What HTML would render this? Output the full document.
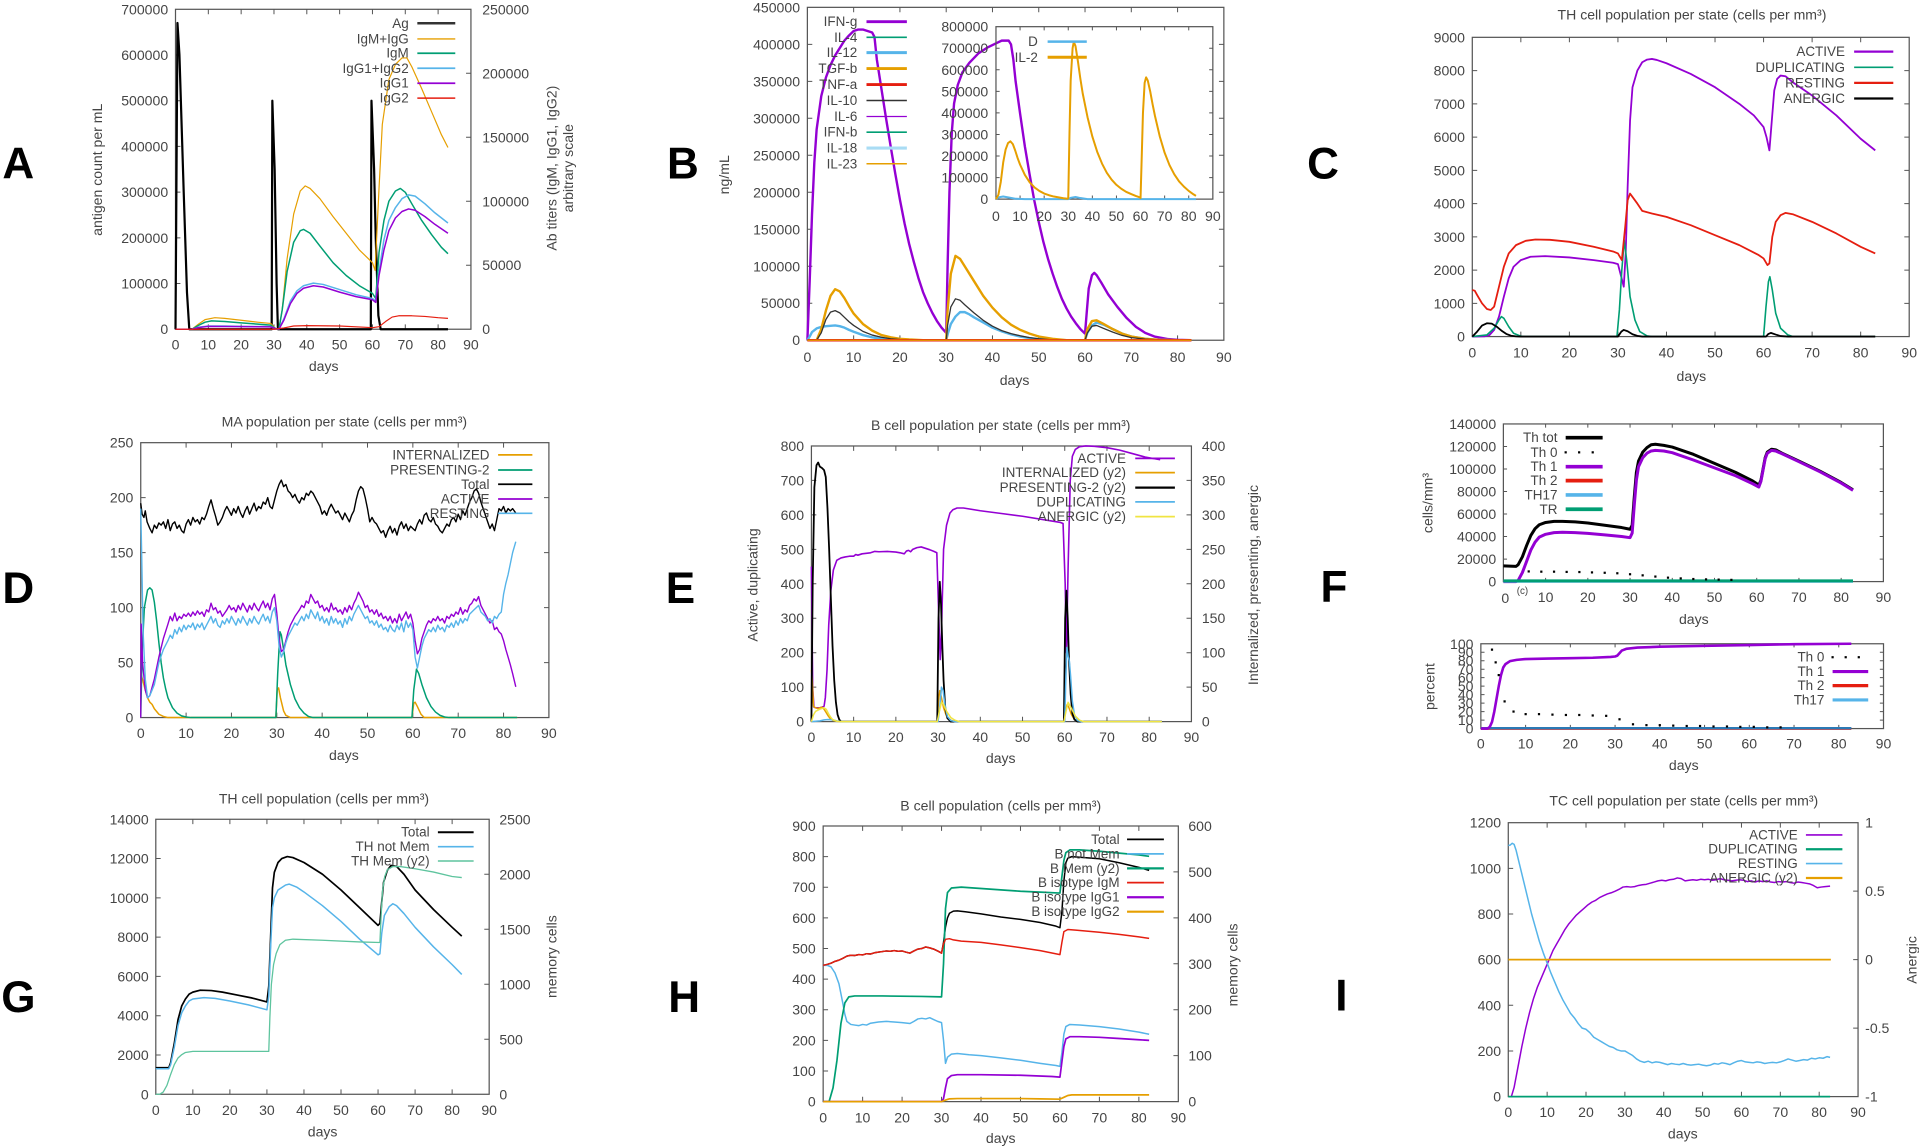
<!DOCTYPE html>
<html><head><meta charset="utf-8"><style>
html,body{margin:0;padding:0;background:#fff;overflow:hidden;width:1919px;height:1148px}
svg{display:block}
text{font-family:"Liberation Sans",Arial,sans-serif;fill:#454545;font-size:11.5px;dominant-baseline:central}
.e{text-anchor:end}.m{text-anchor:middle}.s{text-anchor:start}
.lg{font-size:11px;text-anchor:end}
.ti{font-size:11.5px;text-anchor:middle}
.L{font-size:36px;font-weight:bold;fill:#000;text-anchor:middle}
.bd{fill:none;stroke:#555;stroke-width:1}
.tk,polyline{fill:none;vector-effect:non-scaling-stroke}
.tk{stroke:#555;stroke-width:1}
polyline{stroke-linejoin:round;stroke-width:1.5}
.ck{stroke:#000}.cp{stroke:#9400d3}.cg{stroke:#009e73}.cb{stroke:#56b4e9}.co{stroke:#e69f00}.cr{stroke:#e51e10}.cy{stroke:#f0e442}.cd{stroke:#333}
path.lgl{fill:none;stroke-width:1.4}
</style></head><body>
<svg width="1919" height="1148" viewBox="0 0 1568 938" preserveAspectRatio="none" xmlns="http://www.w3.org/2000/svg">
<rect x="0" y="0" width="1568" height="938" fill="#fff"/>

<!-- Panel letters -->
<text class="L" x="15" y="134">A</text>
<text class="L" x="558" y="134">B</text>
<text class="L" x="1081" y="134">C</text>
<text class="L" x="15" y="481">D</text>
<text class="L" x="556" y="481">E</text>
<text class="L" x="1090" y="480">F</text>
<text class="L" x="15" y="815">G</text>
<text class="L" x="559" y="815">H</text>
<text class="L" x="1096" y="814">I</text>

<!-- ================= PANEL A ================= -->
<rect class="bd" x="143.4" y="7.6" width="241.4" height="261.4"/>
<g transform="translate(143.4,269) scale(2.6822,-0.37343)">
<path class="tk" d="M10,0v10.7M20,0v10.7M30,0v10.7M40,0v10.7M50,0v10.7M60,0v10.7M70,0v10.7M80,0v10.7M10,700v-10.7M20,700v-10.7M30,700v-10.7M40,700v-10.7M50,700v-10.7M60,700v-10.7M70,700v-10.7M80,700v-10.7M0,100h1.49M0,200h1.49M0,300h1.49M0,400h1.49M0,500h1.49M0,600h1.49M90,140h-1.49M90,280h-1.49M90,420h-1.49M90,560h-1.49"/>
<polyline class="ck" style="stroke-width:2.2" points="0,0 0.6,670 1.2,600 2.5,300 3.5,80 4.2,0 29.3,0 29.5,500 30.2,350 30.8,100 31.2,0 59.5,0 59.7,500 60.5,350 61,200 61.8,30 62.5,0 83,0"/>
</g>
<g transform="translate(143.4,269) scale(2.6822,-1.0456)">
<polyline class="co" style="stroke-width:1.2" points="0,0 5,0 7,4 9,7.5 12,9 15,8.5 20,7 25,5.5 29,4.5 30.5,0.5 31.5,0 32.5,15 34,55 36,90 38,108 39.5,112 41,110 44,102 48,88 52,75 56,62 60,52 60.8,46 62,110 63,160 65,195 67,207 69,212 70.5,212 72,205 75,188 78,170 81,152 83,142"/>
<polyline class="cg" points="0,0 5,0 7,3 9,5.5 11,6.5 15,6 20,5 25,4 29,3.2 30.5,0.5 31.5,0 32.5,15 34,45 36,68 38,77 39,78 41,75 44,65 48,52 52,42 56,34 60,28 61,24 62,60 63.5,85 65,100 67,108 68.5,110 70,107 72,98 75,85 78,74 81,64 83,59"/>
<polyline class="cb" points="0,0 5,0 7,1.5 10,2.5 15,2.5 20,2.2 29,2 30.5,0.5 31.5,0 33,8 35,22 37,30 39,34 42,36 45,35 50,31 55,27 60,24 61,22 62,45 63.5,70 65,85 67,95 69,102 71,105 73,104 76,98 79,91 83,83"/>
<polyline class="cp" points="0,0 5,0 7,1.3 10,2.2 20,2 29,1.8 30.5,0.5 31.5,0 33,7 35,20 37,28 39,32 42,34 45,33 50,29 55,25.5 60,23 61,21 62,42 63.5,62 65,77 67,87 69,92 71,94 73,93 76,88 79,82 83,75"/>
<polyline class="cr" style="stroke-width:1.2" points="0,0 30,0 33,1 36,2.5 40,2.8 50,2.5 58,1.5 60,1.2 62,2 64,6 66,9.5 68,10.5 72,10.5 76,10 80,9 83,8.5"/>
</g>
<g class="e">
<text x="137.4" y="269">0</text><text x="137.4" y="231.66">100000</text><text x="137.4" y="194.32">200000</text><text x="137.4" y="156.97">300000</text><text x="137.4" y="119.63">400000</text><text x="137.4" y="82.29">500000</text><text x="137.4" y="44.94">600000</text><text x="137.4" y="7.6">700000</text>
</g>
<g class="s">
<text x="394" y="269">0</text><text x="394" y="216.72">50000</text><text x="394" y="164.44">100000</text><text x="394" y="112.16">150000</text><text x="394" y="59.88">200000</text><text x="394" y="7.6">250000</text>
</g>
<g class="m">
<text x="143.4" y="281.5">0</text><text x="170.2" y="281.5">10</text><text x="197" y="281.5">20</text><text x="223.9" y="281.5">30</text><text x="250.7" y="281.5">40</text><text x="277.5" y="281.5">50</text><text x="304.3" y="281.5">60</text><text x="331.2" y="281.5">70</text><text x="358" y="281.5">80</text><text x="384.8" y="281.5">90</text>
<text x="264.5" y="299">days</text>
<text transform="translate(79.4,138.7) rotate(-90)">antigen count per mL</text>
<text transform="translate(450.6,137.4) rotate(-90)">Ab titers (IgM, IgG1, IgG2)</text>
<text transform="translate(464,137.4) rotate(-90)">arbitrary scale</text>
</g>
<text class="lg" x="334" y="19">Ag</text><text class="lg" x="334" y="31.8">IgM+IgG</text><text class="lg" x="334" y="43.5">IgM</text><text class="lg" x="334" y="55.8">IgG1+IgG2</text><text class="lg" x="334" y="68">IgG1</text><text class="lg" x="334" y="80.2">IgG2</text>
<path class="lgl" d="M341,19H372" style="stroke:#333;stroke-width:2"/>
<path class="lgl co" d="M341,31.8H372" style="stroke-width:1.1"/>
<path class="lgl cg" d="M341,43.5H372"/>
<path class="lgl cb" d="M341,55.8H372"/>
<path class="lgl cp" d="M341,68H372"/>
<path class="lgl cr" d="M341,80.2H372" style="stroke-width:1.2"/>

<!-- ================= PANEL B ================= -->
<rect class="bd" x="659.7" y="6" width="340.3" height="272"/>
<g transform="translate(659.7,278) scale(3.7811,-0.60444)">
<path class="tk" d="M10,0v6.6M20,0v6.6M30,0v6.6M40,0v6.6M50,0v6.6M60,0v6.6M70,0v6.6M80,0v6.6M10,450v-6.6M20,450v-6.6M30,450v-6.6M40,450v-6.6M50,450v-6.6M60,450v-6.6M70,450v-6.6M80,450v-6.6M0,50h1.06M0,100h1.06M0,150h1.06M0,200h1.06M0,250h1.06M0,300h1.06M0,350h1.06M0,400h1.06M90,50h-1.06M90,100h-1.06M90,150h-1.06M90,200h-1.06M90,250h-1.06M90,300h-1.06M90,350h-1.06M90,400h-1.06"/>
<polyline class="cp" style="stroke-width:2.4" points="0,0 0.5,80 1,170 1.5,240 2,285 3,330 4,355 5,372 6,385 7,395 8,405 9,412 10,418 11,420 12,420 13,418 14,416 14.5,410 15,380 16,340 17,300 18,262 19,225 20,190 21,158 22,130 23,106 24,84 25,65 26,50 27,37 28,26 29,17 30,10 30.3,100 30.7,200 31.2,280 31.7,320 32.5,345 33.5,362 35,375 37,388 39,396 41,402 42,405 43.5,405 44,400 44.5,380 45,350 46,305 47,262 48,225 49,190 50,160 51,133 52,110 53,90 54,72 55,56 56,43 57,32 58,23 59,15 60,9 60.4,40 60.8,70 61.5,88 62,91 62.5,88 63.5,78 65,62 67,45 69,30 71,18 73,10 75,5 78,1.5 80,0.5 83,0"/>
<polyline class="cb" style="stroke-width:2.4" points="0,0 0.5,5 1,11 2,16 3,18 4,19 5,19.5 6,20 7,19 8,17 9,14 10,11.5 12,7 14,4 16,2 18,1 20,0.3 22,0 30,0 30.4,10 31,22 32,32 33,38 34,38 35,35 36,31 38,24 40,17 42,12 44,8 46,5 48,3 50,1.5 53,0.5 56,0 60,0 60.5,10 61.5,20 62.5,24 64,21 66,15 68,9 70,5 73,2 76,0.5 80,0"/>
<polyline class="co" style="stroke-width:2.4" points="0,0 2,0 3,15 4,40 5,60 6,69 7,66 8,57 9,46 10,36 12,22 14,13 16,7 18,4 20,2 22,1 25,0 30,0 30.3,40 31,90 32,114 33,110 34,100 36,80 38,60 40,44 42,31 44,21 46,14 48,9 50,5 53,2 56,0 60,0 60.5,15 61.5,26 62.5,27 64,22 66,15 68,9 70,5 73,2 76,0.5 80,0"/>
<polyline class="cd" style="stroke-width:1.3" points="0,0 2,0 3,10 4,28 5,38 6,40 7,37 8,31 9,25 10,20 12,12 14,7 16,4 18,2 20,1 23,0 30,0 30.3,20 31,45 32,56 33,54 34,48 36,37 38,27 40,19 42,13 44,9 46,6 48,3.5 50,2 53,0.5 56,0 60,0 60.5,10 61.5,19 62.5,20 64,16 66,11 68,6.5 70,3.5 73,1.5 76,0.5 80,0"/>
<polyline class="cr" style="stroke-width:2.4" points="0,0 83,0"/>
<polyline class="co" style="stroke-width:1.2" points="0,0 83,0"/>
</g>
<rect class="bd" x="813.8" y="21.8" width="177.2" height="140.9"/>
<g transform="translate(813.8,162.7) scale(1.9689,-0.176125)">
<path class="tk" d="M10,0v17M20,0v17M30,0v17M40,0v17M50,0v17M60,0v17M70,0v17M80,0v17M10,800v-17M20,800v-17M30,800v-17M40,800v-17M50,800v-17M60,800v-17M70,800v-17M80,800v-17M0,100h1.52M0,200h1.52M0,300h1.52M0,400h1.52M0,500h1.52M0,600h1.52M0,700h1.52M90,100h-1.52M90,200h-1.52M90,300h-1.52M90,400h-1.52M90,500h-1.52M90,600h-1.52M90,700h-1.52"/>
<polyline class="cb" style="stroke-width:2" points="0,0 1,8 3,12 5,8 8,2 12,0 30,0 31,6 33,10 35,5 38,0 83,0"/>
<polyline class="co" style="stroke-width:2" points="0,0 1,20 2,80 3,170 4,230 5,260 6,268 7,255 8,225 9,190 10,160 12,112 14,78 16,54 18,38 20,26 22,18 24,12 26,8 28,4 29.8,2 30,5 30.5,300 31,550 31.8,700 32.3,730 33,710 34,640 35,560 36,490 38,380 40,290 42,220 44,165 46,122 48,90 50,66 52,48 54,34 56,24 58,15 59.8,8 60,5 60.5,200 61,400 61.7,540 62.3,565 63,550 64,500 65,440 66,385 68,290 70,215 72,158 74,115 76,82 78,58 80,38 82,22 83,15"/>
</g>
<g class="e">
<text x="653.7" y="278">0</text><text x="653.7" y="247.78">50000</text><text x="653.7" y="217.56">100000</text><text x="653.7" y="187.33">150000</text><text x="653.7" y="157.11">200000</text><text x="653.7" y="126.89">250000</text><text x="653.7" y="96.67">300000</text><text x="653.7" y="66.44">350000</text><text x="653.7" y="36.22">400000</text><text x="653.7" y="6">450000</text>
<text x="807.5" y="162.7">0</text><text x="807.5" y="145.09">100000</text><text x="807.5" y="127.48">200000</text><text x="807.5" y="109.86">300000</text><text x="807.5" y="92.25">400000</text><text x="807.5" y="74.64">500000</text><text x="807.5" y="57.03">600000</text><text x="807.5" y="39.41">700000</text><text x="807.5" y="21.8">800000</text>
</g>
<g class="m">
<text x="659.7" y="291.5">0</text><text x="697.5" y="291.5">10</text><text x="735.3" y="291.5">20</text><text x="773.1" y="291.5">30</text><text x="810.9" y="291.5">40</text><text x="848.8" y="291.5">50</text><text x="886.6" y="291.5">60</text><text x="924.4" y="291.5">70</text><text x="962.2" y="291.5">80</text><text x="1000" y="291.5">90</text>
<text x="813.8" y="176.3">0</text><text x="833.5" y="176.3">10</text><text x="853.2" y="176.3">20</text><text x="872.9" y="176.3">30</text><text x="892.6" y="176.3">40</text><text x="912.2" y="176.3">50</text><text x="931.9" y="176.3">60</text><text x="951.6" y="176.3">70</text><text x="971.3" y="176.3">80</text><text x="991" y="176.3">90</text>
<text x="829" y="310.6">days</text>
<text transform="translate(591.7,142.8) rotate(-90)">ng/mL</text>
</g>
<text class="lg" x="700.5" y="17.7">IFN-g</text><text class="lg" x="700.5" y="30.5">IL-4</text><text class="lg" x="700.5" y="43">IL-12</text><text class="lg" x="700.5" y="56">TGF-b</text><text class="lg" x="700.5" y="69.1">TNF-a</text><text class="lg" x="700.5" y="82.1">IL-10</text><text class="lg" x="700.5" y="95.2">IL-6</text><text class="lg" x="700.5" y="108">IFN-b</text><text class="lg" x="700.5" y="121">IL-18</text><text class="lg" x="700.5" y="133.8">IL-23</text>
<path class="lgl cp" d="M708,17.7H741" style="stroke-width:2.4"/>
<path class="lgl cg" d="M708,30.5H741"/>
<path class="lgl cb" d="M708,43H741" style="stroke-width:2.4"/>
<path class="lgl co" d="M708,56H741" style="stroke-width:2.4"/>
<path class="lgl cr" d="M708,69.1H741" style="stroke-width:2.4"/>
<path class="lgl cd" d="M708,82.1H741" style="stroke-width:1.2"/>
<path class="lgl cp" d="M708,95.2H741" style="stroke-width:1"/>
<path class="lgl cg" d="M708,108H741"/>
<path class="lgl" d="M708,121H741" style="stroke:#a9dcf4;stroke-width:2.6"/>
<path class="lgl co" d="M708,133.8H741" style="stroke-width:1.2"/>
<text class="lg" x="848" y="34">D</text><text class="lg" x="848" y="46.8">IL-2</text>
<path class="lgl cb" d="M856,34H888" style="stroke-width:2"/>
<path class="lgl co" d="M856,46.8H888" style="stroke-width:2.4"/>

<!-- ================= PANEL C ================= -->
<text class="ti" x="1382.5" y="12">TH cell population per state (cells per mm³)</text>
<rect class="bd" x="1203" y="30.5" width="357" height="244.5"/>
<g transform="translate(1203,275) scale(3.9667,-0.027167)">
<path class="tk" d="M10,0v147M20,0v147M30,0v147M40,0v147M50,0v147M60,0v147M70,0v147M80,0v147M10,9000v-147M20,9000v-147M30,9000v-147M40,9000v-147M50,9000v-147M60,9000v-147M70,9000v-147M80,9000v-147M0,1000h1.01M0,2000h1.01M0,3000h1.01M0,4000h1.01M0,5000h1.01M0,6000h1.01M0,7000h1.01M0,8000h1.01M90,1000h-1.01M90,2000h-1.01M90,3000h-1.01M90,4000h-1.01M90,5000h-1.01M90,6000h-1.01M90,7000h-1.01M90,8000h-1.01"/>
<polyline class="cp" style="stroke-width:1.8" points="0,0 2.5,5 3.5,40 4.5,200 5.5,600 6.5,1200 7.5,1750 8.5,2100 10,2300 12,2400 15,2420 20,2380 25,2300 29,2220 30,2180 30.5,1900 31.2,1500 31.6,2500 32,4500 32.5,6500 33,7500 34,8000 35,8250 36,8330 37,8350 38,8320 40,8220 45,7900 50,7500 55,7000 58,6650 60,6300 60.6,6000 61.2,5600 61.7,6500 62.2,7400 62.8,7750 63.5,7850 64.5,7830 66,7650 70,7250 75,6650 80,5950 83,5600"/>
<polyline class="cg" style="stroke-width:1.6" points="0,0 3,50 4.5,250 5.5,500 6,600 6.5,550 7.5,300 8.5,100 10,10 11,0 29.8,0 30.3,800 30.8,2000 31.3,2900 31.8,2300 32.5,1200 33.5,500 34.5,150 36,20 37,0 60,0 60.5,900 61,1650 61.3,1800 61.8,1400 62.5,700 63.5,250 65,50 66,0 83,0"/>
<polyline class="cr" style="stroke-width:1.8" points="0,1400 0.5,1380 1,1250 2,1000 3,830 3.8,800 4.5,900 5.5,1500 6.5,2100 7.5,2500 9,2750 11,2880 13,2920 16,2910 20,2850 25,2700 29,2560 30,2500 30.8,2300 31.5,3300 32,4100 32.5,4300 33,4200 34,4000 35,3780 37,3700 40,3600 45,3350 50,3050 55,2750 59,2450 60,2350 60.8,2150 61.2,2200 61.8,3000 62.5,3450 63.5,3650 64.5,3720 66,3680 70,3450 75,3100 80,2700 83,2500"/>
<polyline class="ck" style="stroke-width:1.8" points="0,0 1,150 2,330 3,400 4,390 5,300 6,180 7,80 8,25 9,5 10,0 30,0 30.7,150 31.2,200 32,160 33,70 34,20 35,0 60.5,0 61,80 61.5,110 62.5,60 63.5,15 65,0 83,0"/>
</g>
<g class="e">
<text x="1197" y="275">0</text><text x="1197" y="247.83">1000</text><text x="1197" y="220.67">2000</text><text x="1197" y="193.5">3000</text><text x="1197" y="166.33">4000</text><text x="1197" y="139.17">5000</text><text x="1197" y="112">6000</text><text x="1197" y="84.83">7000</text><text x="1197" y="57.67">8000</text><text x="1197" y="30.5">9000</text>
</g>
<g class="m">
<text x="1203" y="288">0</text><text x="1242.7" y="288">10</text><text x="1282.3" y="288">20</text><text x="1322" y="288">30</text><text x="1361.7" y="288">40</text><text x="1401.3" y="288">50</text><text x="1441" y="288">60</text><text x="1480.7" y="288">70</text><text x="1520.3" y="288">80</text><text x="1560" y="288">90</text>
<text x="1382" y="307.4">days</text>
</g>
<text class="lg" x="1507.5" y="42.2">ACTIVE</text><text class="lg" x="1507.5" y="55">DUPLICATING</text><text class="lg" x="1507.5" y="67.7">RESTING</text><text class="lg" x="1507.5" y="80.5">ANERGIC</text>
<path class="lgl cp" d="M1515,42.2H1547" style="stroke-width:1.8"/>
<path class="lgl cg" d="M1515,55H1547"/>
<path class="lgl cr" d="M1515,67.7H1547" style="stroke-width:1.8"/>
<path class="lgl ck" d="M1515,80.5H1547" style="stroke-width:1.8"/>

<!-- ================= PANEL D ================= -->
<text class="ti" x="281.4" y="344.5">MA population per state (cells per mm³)</text>
<rect class="bd" x="115" y="361.7" width="333.5" height="224.6"/>
<g transform="translate(115,586.3) scale(3.7056,-0.8984)">
<path class="tk" d="M10,0v4.45M20,0v4.45M30,0v4.45M40,0v4.45M50,0v4.45M60,0v4.45M70,0v4.45M80,0v4.45M10,250v-4.45M20,250v-4.45M30,250v-4.45M40,250v-4.45M50,250v-4.45M60,250v-4.45M70,250v-4.45M80,250v-4.45M0,50h1.08M0,100h1.08M0,150h1.08M0,200h1.08M90,50h-1.08M90,100h-1.08M90,150h-1.08M90,200h-1.08"/>
<polyline class="co" points="0,40 0.5,33 1,25 1.5,18 2,14 2.5,12 3,8 4,3 5,1 6,0 29.8,0 30.1,25 30.4,27 30.8,18 31.5,6 32,2 33,0 59.8,0 60.2,13 60.5,14 61,10 61.8,3 62.5,0 83,0"/>
<polyline class="cg" points="0,0 0.3,60 0.8,100 1.5,116 2,118 2.5,116 3,105 3.5,88 4,68 4.5,50 5,36 5.5,26 6,18 7,9 8,4 9,1.5 10,0.5 11,0 29.8,0 30.2,40 30.7,78 31,75 31.5,62 32,48 33,30 34,17 35,9 36,4 37,1 38,0 59.8,0 60.2,25 60.8,44 61.3,40 62,30 63,18 64,10 65,5 66,2 67,0.5 68,0 83,0"/>
<polyline class="ck" style="stroke-width:1.4" points="0,195 0.3,185 0.7,182 1,188 1.4,178 2,172 2.5,168 3,175 3.5,172 4,177 4.5,175 5,178 5.5,172 6,180 6.5,170 7,176 7.5,178 8,172 8.5,175 9,170 9.5,168 10,176 10.5,180 11,175 11.5,182 12,178 12.5,180 13,176 13.5,182 14,180 14.5,185 15,192 15.5,198 16,190 16.5,183 17,175 17.5,178 18,182 18.5,188 19,192 19.5,188 20,184 20.5,190 21,186 21.5,192 22,186 22.5,182 23,188 23.5,192 24,185 24.5,190 25,195 25.5,188 26,192 26.5,190 27,196 27.5,194 28,200 28.5,192 29,190 29.5,198 30,206 30.5,212 31,216 31.5,210 32,212 32.5,206 33,204 33.5,200 34,203 34.5,198 35,195 35.5,200 36,198 36.5,204 37,202 37.5,206 38,204 38.5,200 39,196 39.5,192 40,185 40.5,188 41,184 41.5,190 42,194 42.5,190 43,186 43.5,188 44,184 44.5,180 45,186 45.5,182 46,178 46.5,184 47,188 47.5,198 48,206 48.5,210 49,208 49.5,200 50,190 50.5,178 51,182 51.5,178 52,176 52.5,172 53,168 53.5,170 54,164 54.5,170 55,174 55.5,168 56,172 56.5,166 57,174 57.5,178 58,172 58.5,176 59,170 59.5,174 60,172 60.5,170 61,176 61.5,180 62,176 62.5,184 63,186 63.5,180 64,178 64.5,182 65,176 65.5,174 66,170 66.5,168 67,172 67.5,176 68,174 68.5,180 69,182 69.5,178 70,185 70.5,180 71,188 71.5,184 72,190 72.5,196 73,200 73.5,206 74,208 74.5,204 75,196 75.5,190 76,184 76.5,178 77,172 77.5,176 78,170 78.5,180 79,190 79.5,188 80,192 80.5,186 81,190 81.5,188 82,190 82.7,186"/>
<polyline class="cp" style="stroke-width:1.4" points="0,0 0.1,85 0.4,50 1,25 1.5,18 2,20 3,35 4,55 5,72 6,85 6.5,92 7,88 7.5,95 8,88 8.5,92 9,90 9.5,94 10,92 10.5,95 11,92 11.5,96 12,93 12.5,97 13,94 13.5,96 14,92 14.5,98 15,96 15.5,104 16,98 16.5,100 17,95 17.5,97 18,92 18.5,95 19,98 19.5,102 20,98 20.5,100 21,96 21.5,102 22,98 22.5,104 23,100 23.5,96 24,102 24.5,98 25,104 25.5,100 26,97 26.5,102 27,106 27.5,100 28,104 28.5,98 29,108 29.5,112 30,95 30.5,72 31,60 31.5,62 32,70 32.5,78 33,84 33.5,88 34,92 34.5,95 35,98 35.5,102 36,100 36.5,106 37,104 37.5,112 38,108 38.5,104 39,106 39.5,100 40,102 40.5,97 41,100 41.5,96 42,104 42.5,98 43,100 43.5,96 44,98 44.5,94 45,100 45.5,96 46,102 46.5,98 47,104 47.5,108 48,114 48.5,110 49,106 49.5,100 50,102 50.5,96 51,98 51.5,94 52,98 52.5,92 53,95 53.5,90 54,92 54.5,88 55,92 55.5,86 56,90 56.5,86 57,94 57.5,88 58,92 58.5,96 59,90 59.5,94 60,86 60.5,70 61,58 61.5,62 62,72 62.5,78 63,84 63.5,88 64,86 64.5,90 65,88 65.5,92 66,88 66.5,90 67,86 67.5,92 68,90 68.5,94 69,92 69.5,96 70,94 70.5,100 71,94 71.5,98 72,96 72.5,102 73,104 73.5,108 74,106 74.5,110 75,102 75.5,98 76,94 76.5,90 77,86 77.5,88 78,80 78.5,82 79,78 79.5,76 80,70 80.5,62 81,55 81.5,48 82,40 82.7,28"/>
<polyline class="cb" style="stroke-width:1.4" points="0,190 0.2,150 0.5,80 1,35 1.5,18 2,20 3,30 4,50 5,62 6,70 6.5,75 7,72 7.5,80 8,76 8.5,82 9,78 9.5,84 10,80 10.5,84 11,82 11.5,86 12,80 12.5,85 13,82 13.5,86 14,80 14.5,84 15,88 15.5,92 16,86 16.5,90 17,84 17.5,82 18,88 18.5,85 19,90 19.5,86 20,92 20.5,88 21,84 21.5,90 22,86 22.5,92 23,88 23.5,84 24,90 24.5,86 25,92 25.5,88 26,85 26.5,90 27,94 27.5,88 28,92 28.5,86 29,96 29.5,100 30,88 30.5,65 31,55 31.5,60 32,68 32.5,74 33,78 33.5,82 34,86 34.5,84 35,88 35.5,92 36,88 36.5,94 37,90 37.5,98 38,94 38.5,90 39,96 39.5,88 40,92 40.5,86 41,90 41.5,84 42,92 42.5,86 43,90 43.5,85 44,88 44.5,82 45,90 45.5,85 46,92 46.5,88 47,94 47.5,98 48,102 48.5,98 49,94 49.5,90 50,92 50.5,86 51,88 51.5,84 52,88 52.5,82 53,85 53.5,80 54,82 54.5,78 55,84 55.5,80 56,78 56.5,84 57,80 57.5,86 58,78 58.5,88 59,82 59.5,86 60,80 60.5,55 61,45 61.5,55 62,65 62.5,72 63,76 63.5,80 64,78 64.5,82 65,78 65.5,84 66,80 66.5,82 67,78 67.5,84 68,82 68.5,86 69,82 69.5,88 70,84 70.5,90 71,86 71.5,90 72,88 72.5,94 73,96 73.5,98 74,100 74.5,102 75,96 75.5,94 76,92 76.5,88 77,90 77.5,86 78,92 78.5,90 79,94 79.5,96 80,112 80.5,122 81,130 81.5,140 82,150 82.7,160"/>
</g>
<g class="e">
<text x="109" y="586.3">0</text><text x="109" y="541.38">50</text><text x="109" y="496.46">100</text><text x="109" y="451.54">150</text><text x="109" y="406.62">200</text><text x="109" y="361.7">250</text>
</g>
<g class="m">
<text x="115" y="599">0</text><text x="152.1" y="599">10</text><text x="189.1" y="599">20</text><text x="226.2" y="599">30</text><text x="263.2" y="599">40</text><text x="300.3" y="599">50</text><text x="337.3" y="599">60</text><text x="374.4" y="599">70</text><text x="411.4" y="599">80</text><text x="448.5" y="599">90</text>
<text x="281" y="616.8">days</text>
</g>
<text class="lg" x="400" y="371.7">INTERNALIZED</text><text class="lg" x="400" y="384">PRESENTING-2</text><text class="lg" x="400" y="395.7">Total</text><text class="lg" x="400" y="407.7">ACTIVE</text><text class="lg" x="400" y="419.4">RESTING</text>
<path class="lgl co" d="M407,371.7H435"/>
<path class="lgl cg" d="M407,384H435"/>
<path class="lgl ck" d="M407,395.7H435"/>
<path class="lgl cp" d="M407,407.7H435"/>
<path class="lgl cb" d="M407,419.4H435"/>

<!-- ================= PANEL E ================= -->
<text class="ti" x="817.7" y="347.2">B cell population  per state (cells per mm³)</text>
<rect class="bd" x="663" y="364.4" width="310.5" height="225.2"/>
<g transform="translate(663,589.6) scale(3.45,-0.2815)">
<path class="tk" d="M10,0v14.2M20,0v14.2M30,0v14.2M40,0v14.2M50,0v14.2M60,0v14.2M70,0v14.2M80,0v14.2M10,800v-14.2M20,800v-14.2M30,800v-14.2M40,800v-14.2M50,800v-14.2M60,800v-14.2M70,800v-14.2M80,800v-14.2M0,100h1.16M0,200h1.16M0,300h1.16M0,400h1.16M0,500h1.16M0,600h1.16M0,700h1.16M90,100h-1.16M90,200h-1.16M90,300h-1.16M90,400h-1.16M90,500h-1.16M90,600h-1.16M90,700h-1.16"/>
<polyline class="cp" style="stroke-width:1.6" points="0,450 0.3,100 0.6,42 1,40 2,40 2.5,42 3,45 3.3,70 3.7,150 4.1,280 4.6,380 5.2,440 6,468 7,475 8,478 9,480 10,480 10.5,485 11,483 12,487 14,490 15,494 16,493 18,494 20,492 21,490 22,487 22.5,495 23,497 23.5,493 24,500 25,505 26,507 27,503 28,499 29,494 29.7,490 30.1,330 30.5,180 30.8,260 31.3,500 32,570 32.8,605 33.5,615 34.5,620 36,620 40,612 45,604 50,596 55,586 59,578 59.6,575 60.1,400 60.4,200 60.8,450 61.3,700 61.8,770 62.5,790 63.5,798 65,800 67,799 70,795 73,788 76,778 79,768 82.6,760"/>
</g>
<g transform="translate(663,589.6) scale(3.45,-0.563)">
<polyline class="co" points="0,75 0.2,60 0.5,22 1,20 1.5,19 2,20 2.5,21 3,18 3.5,13 4,8 4.5,4 5,2 6,0.5 7,0 29.8,0 30.1,30 30.4,45 30.8,35 31.3,20 32,8 33,2 34,0 59.8,0 60.2,18 60.6,25 61,20 61.6,10 62.3,3 63,0 83,0"/>
<polyline class="ck" style="stroke-width:1.8" points="0,0 0.3,200 0.7,340 1.2,372 1.6,376 2,370 2.5,368 3,365 3.4,355 3.8,310 4.2,250 4.6,180 5,110 5.4,60 5.8,28 6.2,10 6.6,3 7,0 29.8,0 30.1,150 30.4,203 30.7,170 31,110 31.3,60 31.7,20 32.2,5 33,0 59.8,0 60.1,150 60.4,190 60.7,150 61,90 61.4,40 61.8,12 62.3,3 63,0 83,0"/>
</g>
<g transform="translate(663,589.6) scale(3.45,-0.2815)">
<polyline class="cb" points="0,0 2,2 3,5 4,6 5,5 6,2 7,0 30,0 30.4,40 30.8,100 31.2,90 31.6,50 32.2,15 33,3 34,0 60,0 60.2,100 60.5,215 60.8,190 61.1,175 61.4,130 61.8,60 62.3,20 63,3 64,0 83,0"/>
</g>
<g transform="translate(663,589.6) scale(3.45,-0.563)">
<polyline class="cy" points="0,0 0.5,10 1,15 2,18 3,20 3.5,18 4,12 4.5,7 5,3 6,0.5 7,0 29.8,0 30.3,15 30.8,28 31.3,25 32,15 33,6 34,2 35,0 59.8,0 60.3,15 60.8,28 61.5,20 62.5,8 63.5,2 64.5,0 83,0"/>
</g>
<g class="e" style="font-size:12px">
<text x="657" y="589.6">0</text><text x="657" y="561.45">100</text><text x="657" y="533.3">200</text><text x="657" y="505.15">300</text><text x="657" y="477">400</text><text x="657" y="448.85">500</text><text x="657" y="420.7">600</text><text x="657" y="392.55">700</text><text x="657" y="364.4">800</text>
</g>
<g class="s" style="font-size:12px">
<text x="982" y="589.6">0</text><text x="982" y="561.45">50</text><text x="982" y="533.3">100</text><text x="982" y="505.15">150</text><text x="982" y="477">200</text><text x="982" y="448.85">250</text><text x="982" y="420.7">300</text><text x="982" y="392.55">350</text><text x="982" y="364.4">400</text>
</g>
<g class="m" style="font-size:12px">
<text x="663" y="602">0</text><text x="697.5" y="602">10</text><text x="732" y="602">20</text><text x="766.5" y="602">30</text><text x="801" y="602">40</text><text x="835.5" y="602">50</text><text x="870" y="602">60</text><text x="904.5" y="602">70</text><text x="939" y="602">80</text><text x="973.5" y="602">90</text>
</g>
<g class="m">
<text x="817.7" y="619.5">days</text>
<text transform="translate(615,478) rotate(-90)">Active, duplicating</text>
<text transform="translate(1023.7,478) rotate(-90)">Internalized, presenting, anergic</text>
</g>
<text class="lg" x="920" y="374.5">ACTIVE</text><text class="lg" x="920" y="386.2">INTERNALIZED (y2)</text><text class="lg" x="920" y="398.4">PRESENTING-2 (y2)</text><text class="lg" x="920" y="410.1">DUPLICATING</text><text class="lg" x="920" y="422.1">ANERGIC (y2)</text>
<path class="lgl cp" d="M927.6,374.5H960"/>
<path class="lgl co" d="M927.6,386.2H960"/>
<path class="lgl ck" d="M927.6,398.4H960" style="stroke-width:1.8"/>
<path class="lgl cb" d="M927.6,410.1H960"/>
<path class="lgl cy" d="M927.6,422.1H960"/>

<!-- ================= PANEL F top ================= -->
<rect class="bd" x="1228.4" y="346.4" width="310.5" height="128.8"/>
<g transform="translate(1228.4,475.2) scale(3.45,-0.92)">
<path class="tk" d="M10,0v3.26M20,0v3.26M30,0v3.26M40,0v3.26M50,0v3.26M60,0v3.26M70,0v3.26M80,0v3.26M10,140v-3.26M20,140v-3.26M30,140v-3.26M40,140v-3.26M50,140v-3.26M60,140v-3.26M70,140v-3.26M80,140v-3.26M0,20h0.87M0,40h0.87M0,60h0.87M0,80h0.87M0,100h0.87M0,120h0.87M90,20h-0.87M90,40h-0.87M90,60h-0.87M90,80h-0.87M90,100h-0.87M90,120h-0.87"/>
<polyline class="ck" style="stroke-width:3" points="0,14 3,13.5 3.5,15 4.5,22 5.5,32 6.5,41 7.5,47 8.5,50.5 10,52.5 12,53.5 14,53.5 17,53 20,52 24,50 28,48 30,46.5 30.5,50 31,75 31.5,97 32,107 33,115 34,119 35,121.5 36,122 38,121 40,119.5 45,113 50,105 55,97 59,89.5 60,87 60.5,85.5 61,90 61.5,100 62,110 62.5,115 63.5,117.5 64.5,117 66,114 70,107 75,98 80,88 82.8,81.5"/>
<polyline class="cp" style="stroke-width:3" points="0,0 3,0 3.5,1 4.5,8 5.5,18 6.5,28 7.5,35 8.5,39.5 10,42 12,43.5 14,43.8 17,43.5 20,42.8 24,41.5 28,40 30,39 30.5,43 31,68 31.5,90 32,102 33,110 34,114 35,116 36,116.5 38,116 40,114.5 45,108 50,101 55,94 59,87 60,85 60.5,84 61,89 61.5,99 62,109 62.5,114 63.5,116.5 64.5,116 66,113.5 70,106.5 75,97.5 80,87.5 82.8,81"/>
<polyline class="cb" style="stroke-width:3" points="0,0.3 82.8,0.3"/>
<polyline class="cg" style="stroke-width:3" points="0,0.6 82.8,0.6"/>
</g>
<g fill="#000">
<rect x="1248.2" y="466" width="1.8" height="1.8"/><rect x="1258.5" y="466.2" width="1.8" height="1.8"/><rect x="1268.9" y="466.2" width="1.8" height="1.8"/><rect x="1279.2" y="466.4" width="1.8" height="1.8"/><rect x="1289.6" y="466.5" width="1.8" height="1.8"/><rect x="1299.9" y="466.8" width="1.8" height="1.8"/><rect x="1310.3" y="467.1" width="1.8" height="1.8"/><rect x="1320.6" y="467.5" width="1.8" height="1.8"/><rect x="1331" y="468.3" width="1.8" height="1.8"/><rect x="1341.3" y="469.2" width="1.8" height="1.8"/><rect x="1351.7" y="470.2" width="1.8" height="1.8"/><rect x="1362" y="471.1" width="1.8" height="1.8"/><rect x="1372.4" y="471.7" width="1.8" height="1.8"/><rect x="1382.7" y="472.2" width="1.8" height="1.8"/><rect x="1393.1" y="472.5" width="1.8" height="1.8"/><rect x="1403.4" y="472.7" width="1.8" height="1.8"/><rect x="1413.8" y="472.9" width="1.8" height="1.8"/>
<rect x="1278.4" y="368.7" width="1.8" height="1.8"/><rect x="1289.4" y="368.7" width="1.8" height="1.8"/><rect x="1300.5" y="368.7" width="1.8" height="1.8"/>
</g>
<g class="e" style="font-size:11px">
<text x="1222.5" y="475.2">0</text><text x="1222.5" y="456.8">20000</text><text x="1222.5" y="438.4">40000</text><text x="1222.5" y="420">60000</text><text x="1222.5" y="401.6">80000</text><text x="1222.5" y="383.2">100000</text><text x="1222.5" y="364.8">120000</text><text x="1222.5" y="346.4">140000</text>
</g>
<g class="m" style="font-size:11px">
<text x="1230" y="488.5">0</text><text x="1262.9" y="488">10</text><text x="1297.4" y="488">20</text><text x="1331.9" y="488">30</text><text x="1366.4" y="488">40</text><text x="1400.9" y="488">50</text><text x="1435.4" y="488">60</text><text x="1469.9" y="488">70</text><text x="1504.4" y="488">80</text><text x="1538.9" y="488">90</text>
<text x="1384" y="505.7">days</text>
<text transform="translate(1166.4,411) rotate(-90)">cells/mm³</text>
</g>
<text x="1244" y="483.5" class="m" style="font-size:8px">(c)</text>
<text class="lg" x="1272.6" y="357.6">Th tot</text><text class="lg" x="1272.6" y="369.6">Th 0</text><text class="lg" x="1272.6" y="381.3">Th 1</text><text class="lg" x="1272.6" y="392.7">Th 2</text><text class="lg" x="1272.6" y="404.4">TH17</text><text class="lg" x="1272.6" y="416.1">TR</text>
<path class="lgl ck" d="M1279.3,357.6H1309.5" style="stroke-width:3"/>
<path class="lgl cp" d="M1279.3,381.3H1309.5" style="stroke-width:3"/>
<path class="lgl cr" d="M1279.3,392.7H1309.5" style="stroke-width:3"/>
<path class="lgl cb" d="M1279.3,404.4H1309.5" style="stroke-width:3"/>
<path class="lgl cg" d="M1279.3,416.1H1309.5" style="stroke-width:3"/>

<!-- ================= PANEL F bottom ================= -->
<rect class="bd" x="1210" y="526" width="329" height="69.3"/>
<g transform="translate(1210,595.3) scale(3.6556,-0.693)">
<path class="tk" d="M10,0v4.33M20,0v4.33M30,0v4.33M40,0v4.33M50,0v4.33M60,0v4.33M70,0v4.33M80,0v4.33M10,100v-4.33M20,100v-4.33M30,100v-4.33M40,100v-4.33M50,100v-4.33M60,100v-4.33M70,100v-4.33M80,100v-4.33M0,10h0.82M0,20h0.82M0,30h0.82M0,40h0.82M0,50h0.82M0,60h0.82M0,70h0.82M0,80h0.82M0,90h0.82M90,10h-0.82M90,20h-0.82M90,30h-0.82M90,40h-0.82M90,50h-0.82M90,60h-0.82M90,70h-0.82M90,80h-0.82M90,90h-0.82"/>
<polyline class="cr" style="stroke-width:2.6" points="0,0 82.8,0"/>
<polyline style="stroke:#2b79b5;stroke-width:2.4" points="0,0.5 82.8,0.5"/>
<polyline class="cp" style="stroke-width:2.6" points="0,0 1.5,0 2,2 2.5,8 3,20 3.5,35 4,50 4.5,63 5,72 5.5,76 6.5,79.5 8,81 10,82 15,82.5 20,83 25,83.5 29,84.5 30,85 30.5,86 31,89 31.5,92 32.5,94 35,95.5 40,96.5 50,97.5 60,98.5 70,99.5 82.8,100"/>
</g>
<g fill="#000">
<rect x="1218.2" y="529.9" width="1.8" height="1.8"/><rect x="1221.2" y="540.3" width="1.8" height="1.8"/><rect x="1223.7" y="550.7" width="1.8" height="1.8"/><rect x="1228.5" y="572.2" width="1.8" height="1.8"/><rect x="1235.8" y="580.5" width="1.8" height="1.8"/><rect x="1245.7" y="582.6" width="1.8" height="1.8"/><rect x="1256.6" y="582.6" width="1.8" height="1.8"/><rect x="1267.6" y="583" width="1.8" height="1.8"/><rect x="1278.6" y="583.3" width="1.8" height="1.8"/><rect x="1289.5" y="583.3" width="1.8" height="1.8"/><rect x="1300.5" y="583.7" width="1.8" height="1.8"/><rect x="1311.5" y="584" width="1.8" height="1.8"/><rect x="1322.4" y="586.8" width="1.8" height="1.8"/><rect x="1333.4" y="590.9" width="1.8" height="1.8"/><rect x="1344.4" y="591.6" width="1.8" height="1.8"/><rect x="1355.3" y="591.6" width="1.8" height="1.8"/><rect x="1366.3" y="592" width="1.8" height="1.8"/><rect x="1377.3" y="592.3" width="1.8" height="1.8"/><rect x="1388.2" y="592.3" width="1.8" height="1.8"/><rect x="1399.2" y="592.7" width="1.8" height="1.8"/><rect x="1410.2" y="592.7" width="1.8" height="1.8"/><rect x="1421.1" y="593" width="1.8" height="1.8"/><rect x="1432.1" y="593" width="1.8" height="1.8"/><rect x="1443.1" y="593.4" width="1.8" height="1.8"/><rect x="1454" y="593.4" width="1.8" height="1.8"/>
<rect x="1496.5" y="536.1" width="1.8" height="1.8"/><rect x="1507.2" y="536.1" width="1.8" height="1.8"/><rect x="1517.9" y="536.1" width="1.8" height="1.8"/>
</g>
<g class="e" style="font-size:10px">
<text x="1204" y="595.3">0</text><text x="1204" y="588.37">10</text><text x="1204" y="581.44">20</text><text x="1204" y="574.51">30</text><text x="1204" y="567.58">40</text><text x="1204" y="560.65">50</text><text x="1204" y="553.72">60</text><text x="1204" y="546.79">70</text><text x="1204" y="539.86">80</text><text x="1204" y="532.93">90</text><text x="1204" y="526">100</text>
</g>
<g class="m" style="font-size:11px">
<text x="1210" y="607.3">0</text><text x="1246.6" y="607.3">10</text><text x="1283.1" y="607.3">20</text><text x="1319.7" y="607.3">30</text><text x="1356.2" y="607.3">40</text><text x="1392.8" y="607.3">50</text><text x="1429.3" y="607.3">60</text><text x="1465.9" y="607.3">70</text><text x="1502.4" y="607.3">80</text><text x="1539" y="607.3">90</text>
<text x="1375.8" y="625">days</text>
<text transform="translate(1168,561) rotate(-90)">percent</text>
</g>
<text class="lg" x="1490.7" y="537">Th 0</text><text class="lg" x="1490.7" y="548.7">Th 1</text><text class="lg" x="1490.7" y="560.2">Th 2</text><text class="lg" x="1490.7" y="571.9">Th17</text>
<path class="lgl cp" d="M1497.4,548.7H1526.5" style="stroke-width:2.6"/>
<path class="lgl cr" d="M1497.4,560.2H1526.5" style="stroke-width:2.6"/>
<path class="lgl cb" d="M1497.4,571.9H1526.5" style="stroke-width:2.6"/>

<!-- ================= PANEL G ================= -->
<text class="ti" x="264.7" y="652.3">TH cell population (cells per mm³)</text>
<rect class="bd" x="127.3" y="669.4" width="272.4" height="224.7"/>
<g transform="translate(127.3,894.1) scale(3.0267,-16.05)">
<path class="tk" d="M10,0v0.249M20,0v0.249M30,0v0.249M40,0v0.249M50,0v0.249M60,0v0.249M70,0v0.249M80,0v0.249M10,14v-0.249M20,14v-0.249M30,14v-0.249M40,14v-0.249M50,14v-0.249M60,14v-0.249M70,14v-0.249M80,14v-0.249M0,2h1.32M0,4h1.32M0,6h1.32M0,8h1.32M0,10h1.32M0,12h1.32M90,2.8h-1.32M90,5.6h-1.32M90,8.4h-1.32M90,11.2h-1.32"/>
<polyline class="ck" style="stroke-width:1.7" points="0,1.35 3.5,1.35 4,1.6 5,2.6 6,3.8 7,4.5 8,4.85 9,5.1 10,5.2 12,5.3 15,5.28 18,5.2 22,5.05 26,4.9 30,4.7 30.5,5.5 31,8 31.5,10.5 32,11.3 33,11.8 34,12 35.5,12.1 37,12.05 40,11.8 45,11.2 50,10.4 55,9.5 60,8.6 60.5,8.7 61,9.8 61.5,10.8 62.5,11.4 63.5,11.65 65,11.6 67,11.2 70,10.4 75,9.4 80,8.5 82.6,8.05"/>
<polyline class="cb" points="0,1.3 3.5,1.3 4,1.5 5,2.4 6,3.5 7,4.15 8,4.5 9,4.75 10,4.85 13,4.92 16,4.88 20,4.75 25,4.55 30,4.3 30.5,5 31,7.5 31.5,9.5 32,10 33,10.4 35,10.65 36,10.7 38,10.55 40,10.3 45,9.6 50,8.8 55,7.9 60,7.1 60.5,7.15 61,8.2 61.7,9.1 63,9.55 64,9.7 65,9.6 67,9.2 70,8.5 75,7.5 80,6.6 82.6,6.1"/>
</g>
<g transform="translate(127.3,894.1) scale(3.0267,-89.88)">
<polyline style="stroke:#5ec49e;stroke-width:1.3" points="0,0 1,0 2,0.02 3,0.08 4,0.18 5,0.27 6,0.33 7,0.36 8,0.38 10,0.39 30.5,0.39 30.8,0.7 31.2,1 31.8,1.18 32.5,1.28 33.5,1.36 35,1.4 37,1.41 45,1.4 55,1.385 60.5,1.38 60.8,1.6 61.2,1.85 61.8,1.98 62.5,2.04 64,2.07 66,2.07 70,2.05 75,2.02 80,1.98 82.6,1.97"/>
</g>
<g class="e">
<text x="121.5" y="894.1">0</text><text x="121.5" y="862">2000</text><text x="121.5" y="829.9">4000</text><text x="121.5" y="797.8">6000</text><text x="121.5" y="765.7">8000</text><text x="121.5" y="733.6">10000</text><text x="121.5" y="701.5">12000</text><text x="121.5" y="669.4">14000</text>
</g>
<g class="s">
<text x="408" y="894.1">0</text><text x="408" y="849.16">500</text><text x="408" y="804.22">1000</text><text x="408" y="759.28">1500</text><text x="408" y="714.34">2000</text><text x="408" y="669.4">2500</text>
</g>
<g class="m">
<text x="127.3" y="906.9">0</text><text x="157.6" y="906.9">10</text><text x="187.8" y="906.9">20</text><text x="218.1" y="906.9">30</text><text x="248.4" y="906.9">40</text><text x="278.6" y="906.9">50</text><text x="308.9" y="906.9">60</text><text x="339.2" y="906.9">70</text><text x="369.4" y="906.9">80</text><text x="399.7" y="906.9">90</text>
<text x="263.6" y="924.6">days</text>
<text transform="translate(450.6,781.6) rotate(-90)">memory cells</text>
</g>
<text class="lg" x="351" y="680">Total</text><text class="lg" x="351" y="691.8">TH not Mem</text><text class="lg" x="351" y="703.5">TH Mem (y2)</text>
<path class="lgl ck" d="M357.8,680H387" style="stroke-width:1.7"/>
<path class="lgl cb" d="M357.8,691.8H387"/>
<path class="lgl" d="M357.8,703.5H387" style="stroke:#5ec49e;stroke-width:1.3"/>

<!-- ================= PANEL H ================= -->
<text class="ti" x="817.7" y="658.3">B cell population (cells per mm³)</text>
<rect class="bd" x="672.6" y="674.9" width="290.2" height="225.2"/>
<g transform="translate(672.6,900.1) scale(3.2244,-0.25022)">
<path class="tk" d="M10,0v16M20,0v16M30,0v16M40,0v16M50,0v16M60,0v16M70,0v16M80,0v16M10,900v-16M20,900v-16M30,900v-16M40,900v-16M50,900v-16M60,900v-16M70,900v-16M80,900v-16M0,100h1.24M0,200h1.24M0,300h1.24M0,400h1.24M0,500h1.24M0,600h1.24M0,700h1.24M0,800h1.24M90,150h-1.24M90,300h-1.24M90,450h-1.24M90,600h-1.24M90,750h-1.24"/>
<polyline class="ck" points="0,445 1,448 2,452 3,458 4,462 5,468 6,475 7,478 8,477 9,480 10,479 11,483 12,482 13,486 14,488 15,490 16,492 17,491 18,493 19,491 20,492 21,488 22,485 23,492 24,498 25,500 26,505 27,502 28,498 29,492 30,485 30.5,520 31,570 31.5,600 32,615 33,622 34,623 36,620 40,613 45,603 50,595 55,585 59,573 60,568 60.5,620 61,720 61.5,780 62,795 63,800 65,798 70,793 75,780 80,765 82.6,755"/>
<polyline class="cb" points="0,445 1,445 2,440 3,420 4,385 5,320 5.5,285 6,262 7,252 8,250 9,248 10,252 11,250 12,256 14,260 16,262 18,260 20,258 22,255 23,262 24,270 25,272 26,270 27,274 28,268 29,262 30,258 30.5,200 31,125 31.5,145 32.5,155 34,157 37,153 40,150 45,143 50,135 55,125 59,118 60,115 60.5,160 61,220 61.5,245 62.5,252 65,250 70,245 75,237 80,227 82.6,220"/>
</g>
<g transform="translate(672.6,900.1) scale(3.2244,-0.37533)">
<polyline class="cg" style="stroke-width:1.7" points="0,0 1.5,0 2.5,30 3.5,90 4.5,170 5.5,215 6.5,228 8,230 15,230 25,229 30,228 30.5,300 31,420 31.5,455 32.5,465 35,467 40,464 45,461 50,458 55,456 60,454 60.5,490 61,525 61.5,542 62.5,548 65,548 70,545 75,541 80,537 82.6,534"/>
</g>
<g transform="translate(672.6,900.1) scale(3.2244,-0.25022)">
<polyline class="cr" points="0,445 1,448 2,452 3,458 4,462 5,468 6,475 7,478 8,477 9,480 10,479 11,483 12,482 13,486 14,488 15,490 16,492 17,491 18,493 19,491 20,492 21,488 22,485 23,492 24,498 25,500 26,505 27,502 28,498 29,492 30,485 30.5,515 31,530 32,532 33,528 35,524 40,520 45,512 50,503 55,493 60,480 60.5,520 61,555 62,562 64,560 70,553 75,546 80,538 82.6,533"/>
<polyline class="cp" style="stroke-width:1.7" points="0,0 30,0 30.5,10 31,45 31.5,75 32.5,85 34,88 40,88 50,86 58,82 60,80 60.5,130 61,180 61.5,205 62.5,212 65,212 70,210 75,206 80,202 82.6,200"/>
<polyline class="co" style="stroke-width:1.7" points="0,0 30,0 31,5 32,9 34,10 50,10 55,9 60,8 61,14 62,20 63,22 65,22 82.6,22"/>
</g>
<g class="e">
<text x="666.5" y="900.1">0</text><text x="666.5" y="875.08">100</text><text x="666.5" y="850.06">200</text><text x="666.5" y="825.03">300</text><text x="666.5" y="800.01">400</text><text x="666.5" y="774.99">500</text><text x="666.5" y="749.97">600</text><text x="666.5" y="724.95">700</text><text x="666.5" y="699.92">800</text><text x="666.5" y="674.9">900</text>
</g>
<g class="s">
<text x="971" y="900.1">0</text><text x="971" y="862.57">100</text><text x="971" y="825.03">200</text><text x="971" y="787.5">300</text><text x="971" y="749.97">400</text><text x="971" y="712.43">500</text><text x="971" y="674.9">600</text>
</g>
<g class="m">
<text x="672.6" y="912.9">0</text><text x="704.8" y="912.9">10</text><text x="737.1" y="912.9">20</text><text x="769.3" y="912.9">30</text><text x="801.6" y="912.9">40</text><text x="833.8" y="912.9">50</text><text x="866.1" y="912.9">60</text><text x="898.3" y="912.9">70</text><text x="930.6" y="912.9">80</text><text x="962.8" y="912.9">90</text>
<text x="817.7" y="930">days</text>
<text transform="translate(1007,788.4) rotate(-90)">memory cells</text>
</g>
<text class="lg" x="914.8" y="685.8">Total</text><text class="lg" x="914.8" y="697.7">B not Mem</text><text class="lg" x="914.8" y="709.5">B Mem (y2)</text><text class="lg" x="914.8" y="721.2">B isotype IgM</text><text class="lg" x="914.8" y="733.1">B isotype IgG1</text><text class="lg" x="914.8" y="744.9">B isotype IgG2</text>
<path class="lgl ck" d="M920.9,685.8H951"/>
<path class="lgl cb" d="M920.9,697.7H951"/>
<path class="lgl cg" d="M920.9,709.5H951" style="stroke-width:1.8"/>
<path class="lgl cr" d="M920.9,721.2H951"/>
<path class="lgl cp" d="M920.9,733.1H951" style="stroke-width:1.8"/>
<path class="lgl co" d="M920.9,744.9H951" style="stroke-width:1.8"/>

<!-- ================= PANEL I ================= -->
<text class="ti" x="1375.8" y="654.2">TC cell population per state (cells per mm³)</text>
<rect class="bd" x="1232.4" y="672.2" width="285.8" height="223.8"/>
<g transform="translate(1232.4,896) scale(3.1756,-0.1865)">
<path class="tk" d="M10,0v21.4M20,0v21.4M30,0v21.4M40,0v21.4M50,0v21.4M60,0v21.4M70,0v21.4M80,0v21.4M10,1200v-21.4M20,1200v-21.4M30,1200v-21.4M40,1200v-21.4M50,1200v-21.4M60,1200v-21.4M70,1200v-21.4M80,1200v-21.4M0,200h1.26M0,400h1.26M0,600h1.26M0,800h1.26M0,1000h1.26M90,300h-1.26M90,600h-1.26M90,900h-1.26"/>
<polyline class="cp" points="0.8,0 1.5,40 2.5,130 3.5,220 4.5,300 5.5,370 6.5,430 7.5,480 8.5,520 9.5,560 10.5,600 11.5,640 12.5,670 13.5,700 14.5,730 15.5,755 16.5,775 17.5,795 18.5,810 19.5,825 20.5,840 21.5,852 22.5,860 23.5,872 24.5,880 25.5,888 26.5,893 27.5,900 28.5,908 29.5,918 30.5,920 31.5,918 32.5,920 33.5,925 34.5,928 35.5,930 36.5,935 37.5,940 38.5,945 39.5,948 40.5,945 41.5,950 42.5,952 43.5,958 44.5,955 45.5,945 46.5,948 47.5,950 48.5,948 49.5,952 50.5,950 51.5,952 52.5,948 53.5,950 54.5,955 55.5,950 56.5,948 57.5,945 58.5,948 59.5,950 60.5,948 61.5,942 62.5,945 63.5,940 64.5,945 65.5,942 66.5,945 67.5,940 68.5,938 69.5,942 70.5,940 71.5,942 72.5,938 73.5,935 74.5,940 75.5,938 76.5,935 77.5,932 78.5,925 79.5,915 80.5,918 81.5,920 82.8,922"/>
<polyline class="cg" style="stroke-width:1.8" points="0,0 82.8,0"/>
<polyline class="cb" points="0,1100 0.5,1102 1,1110 1.5,1105 2,1080 3,1010 4,940 5,870 6,800 7,740 8,680 9,630 10,585 11,540 12,500 13,460 14,425 15,395 16,365 17,345 18,320 19,300 20,295 21,280 22,260 23,250 24,240 25,230 26,220 27,215 28,205 29,200 30,200 31,190 32,180 33,165 34,155 35,150 36,155 37,148 38,152 39,150 40,145 41,140 42,145 43,142 44,140 45,145 46,140 47,138 48,140 49,142 50,138 51,135 52,138 53,145 54,142 55,148 56,145 57,140 58,148 59,155 60,158 61,152 62,150 63,148 64,152 65,150 66,145 67,148 68,150 69,148 70,152 71,158 72,165 73,160 74,155 75,158 76,162 77,160 78,168 79,165 80,170 81,168 82,175 82.8,172"/>
<polyline class="co" style="stroke-width:1.8" points="0,600 83,600"/>
</g>
<g class="e">
<text x="1226.5" y="896">0</text><text x="1226.5" y="858.7">200</text><text x="1226.5" y="821.4">400</text><text x="1226.5" y="784.1">600</text><text x="1226.5" y="746.8">800</text><text x="1226.5" y="709.5">1000</text><text x="1226.5" y="672.2">1200</text>
</g>
<g class="s">
<text x="1524" y="896">-1</text><text x="1524" y="840.05">-0.5</text><text x="1524" y="784.1">0</text><text x="1524" y="728.15">0.5</text><text x="1524" y="672.2">1</text>
</g>
<g class="m">
<text x="1232.4" y="908.8">0</text><text x="1264.2" y="908.8">10</text><text x="1295.9" y="908.8">20</text><text x="1327.7" y="908.8">30</text><text x="1359.4" y="908.8">40</text><text x="1391.2" y="908.8">50</text><text x="1422.9" y="908.8">60</text><text x="1454.7" y="908.8">70</text><text x="1486.4" y="908.8">80</text><text x="1518.2" y="908.8">90</text>
<text x="1375" y="926">days</text>
<text transform="translate(1561.7,784.3) rotate(-90)">Anergic</text>
</g>
<text class="lg" x="1468.9" y="682.2">ACTIVE</text><text class="lg" x="1468.9" y="693.9">DUPLICATING</text><text class="lg" x="1468.9" y="705.6">RESTING</text><text class="lg" x="1468.9" y="717.4">ANERGIC (y2)</text>
<path class="lgl cp" d="M1475.6,682.2H1505.4"/>
<path class="lgl cg" d="M1475.6,693.9H1505.4" style="stroke-width:1.8"/>
<path class="lgl cb" d="M1475.6,705.6H1505.4"/>
<path class="lgl co" d="M1475.6,717.4H1505.4" style="stroke-width:1.8"/>
</svg>
</body></html>
